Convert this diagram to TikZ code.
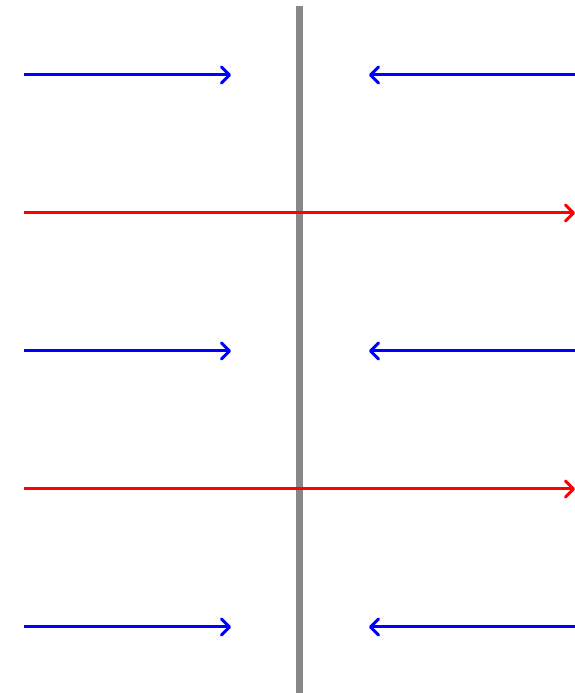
\documentclass[tikz,border=0pt]{standalone}
\usetikzlibrary{arrows.meta}
\begin{document}
\begin{tikzpicture}[x=1pt,y=1pt,
  tipshape/.style={-{Straight Barb[length=8pt,width=16pt,line width=3pt,round]}},
  blueflow/.style={draw=blue, line width=3pt, tipshape},
  redflow/.style={draw=red, line width=3pt, tipshape},
  wall/.style={draw={rgb,255:red,136;green,136;blue,136}, line width=7pt}]
\useasboundingbox (0,0) rectangle (575,693);
\fill[white] (0,0) rectangle (575,693);
\coordinate (wt) at (299.5,687);
\coordinate (wb) at (299.5,-2);
\draw[wall] (wt) -- (wb);
\foreach \y/\n in {618/a,342/b,66/c}{
  \coordinate (l\n) at (24,\y);
  \coordinate (lt\n) at (231,\y);
  \coordinate (r\n) at (577,\y);
  \coordinate (rt\n) at (369,\y);
  \draw[blueflow] (l\n) -- (lt\n);
  \draw[blueflow] (r\n) -- (rt\n);
}
\foreach \y/\n in {480/d,204/e}{
  \coordinate (ls\n) at (24,\y);
  \coordinate (le\n) at (575,\y);
  \draw[redflow] (ls\n) -- (le\n);
}
\end{tikzpicture}
\end{document}
